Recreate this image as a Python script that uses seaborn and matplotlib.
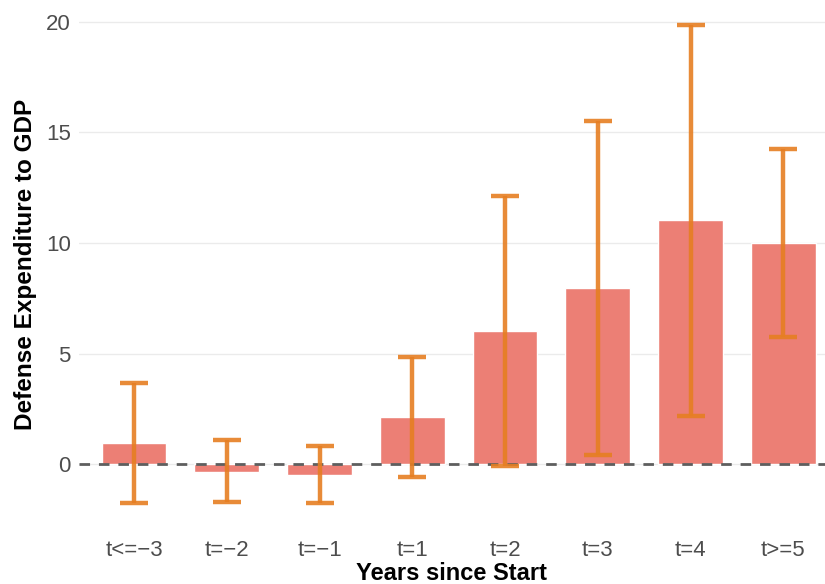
import matplotlib
matplotlib.use("Agg")
import matplotlib.pyplot as plt
import seaborn as sns
import pandas as pd

# Event-time categories and estimated effects with confidence bounds
periods = ["t<=\u22123", "t=\u22122", "t=\u22121", "t=1", "t=2", "t=3", "t=4", "t>=5"]
estimate = [0.95, -0.36, -0.50, 2.13, 6.02, 7.96, 11.04, 10.00]
ci_low = [-1.76, -1.72, -1.76, -0.59, -0.09, 0.41, 2.17, 5.75]
ci_high = [3.66, 1.09, 0.81, 4.84, 12.13, 15.52, 19.86, 14.25]

df = pd.DataFrame({"period": periods, "estimate": estimate,
                   "low": ci_low, "high": ci_high})

sns.set_theme(style="white")
plt.rcParams["font.family"] = ["Liberation Sans", "DejaVu Sans"]

fig = plt.figure(figsize=(8.25, 5.84), dpi=100)
ax = fig.add_axes([79 / 825, 1 - 527 / 584, 746 / 825, 526 / 584])

ax.yaxis.grid(True, color="#EBEBEB", linewidth=1.0)
ax.set_axisbelow(True)

sns.barplot(data=df, x="period", y="estimate", order=periods,
            color="#EC7F75", saturation=1, width=0.7, errorbar=None, ax=ax,
            zorder=2)

ax.axhline(0, color="#5E5E5E", linewidth=2.0, linestyle=(0, (3.8, 3.2)),
           zorder=3)

xpos = list(range(len(periods)))
ax.errorbar(xpos, df["estimate"],
            yerr=[df["estimate"] - df["low"], df["high"] - df["estimate"]],
            fmt="none", ecolor="#E67E22", alpha=0.9, elinewidth=3.2,
            capsize=9.9, capthick=3.2, zorder=4)

ax.set_xlim(-0.593, 7.45)
ax.set_ylim(-2.84, 20.94)
ax.set_yticks([0, 5, 10, 15, 20])

for s in ax.spines.values():
    s.set_visible(False)

ax.tick_params(axis="both", length=0, labelsize=16, labelcolor="#4D4D4D")
ax.tick_params(axis="x", pad=9)
ax.tick_params(axis="y", pad=6)

ax.set_xlabel("Years since Start", fontsize=17, fontweight="bold",
              color="black", labelpad=1)
ax.set_ylabel("Defense Expenditure to GDP", fontsize=17.5, fontweight="bold",
              color="black", labelpad=6)

fig.savefig("out.png", dpi=100)
